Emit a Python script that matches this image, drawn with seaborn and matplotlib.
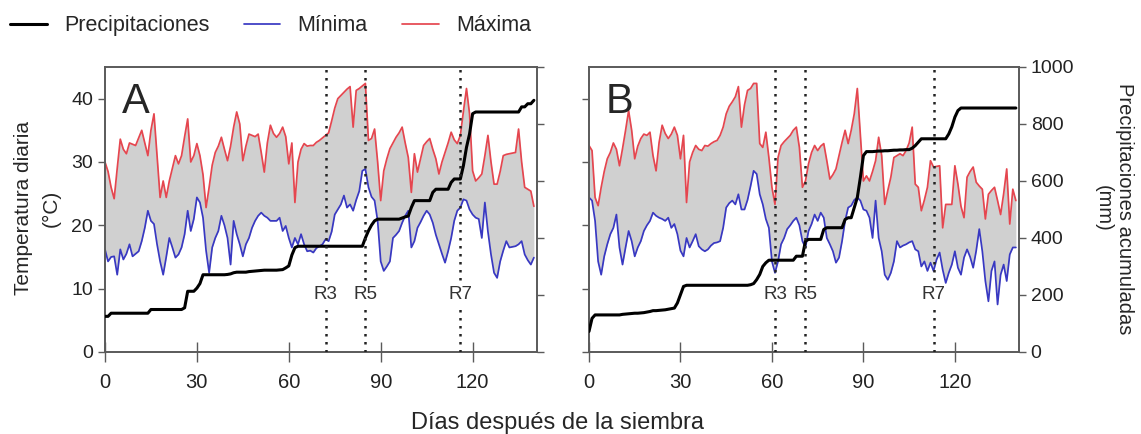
import numpy as np
import pandas as pd
import seaborn as sns
import matplotlib
matplotlib.use("Agg")
import matplotlib.pyplot as plt
from matplotlib.lines import Line2D

# ---------------- data ----------------
days = list(range(0, 141))

max_A = [30, 28.5, 26, 24.2, 29, 33.6, 32, 31.3, 33, 32.8, 32.6, 33.8, 35, 33, 31, 35, 37.6, 31, 24.4, 27,
         24.4, 27, 29, 31, 29.7, 31, 34, 36.8, 30, 31, 32.9, 31, 28, 22.8, 26, 29.5, 31.5, 32.5, 33.9, 32,
         30.2, 32.5, 35.5, 37.9, 36, 30.2, 32.5, 34.4, 34.2, 34, 34.4, 31.5, 28.4, 33, 35.8, 34.5, 33.9, 34.5, 35.5, 34,
         29.7, 33, 23.6, 30, 32, 32.9, 32.5, 32.6, 32.6, 33.1, 33.4, 33.8, 34.2, 34.6, 36.5, 38.5, 40, 40.5, 41, 41.5,
         41.9, 35.5, 41.3, 41.6, 42, 42.4, 33.4, 33.7, 35.2, 30, 23.9, 28.6, 30.5, 32.1, 33, 33.9, 34.6, 35.5, 33, 30.7,
         25.2, 31.3, 28.4, 30.5, 32.6, 33.2, 33.7, 32, 30.5, 28.1, 30, 31.5, 33, 34.7, 33.5, 32.9, 34.2, 38, 41.6, 37.6,
         28.6, 27, 27.5, 28.1, 31, 34.2, 30, 26.5, 26.5, 28.5, 31, 31.2, 31.3, 31.4, 31.5, 35.2, 30, 26, 25.7, 25.4, 23]

min_A = [16.2, 14.3, 15, 15.1, 12.2, 16.2, 14.6, 15.5, 17, 15.1, 15.5, 15.9, 17.5, 19.6, 22.3, 20.7, 20.2, 17, 14.3, 12.2,
         15, 18, 16.5, 14.9, 15.4, 16.5, 18.6, 22.3, 19.1, 21, 24.4, 23.6, 21.2, 16, 12.5, 16.5, 18, 19.1, 21.5, 20,
         18, 13.8, 20.7, 18.6, 17, 15.1, 17, 18, 19.6, 20.7, 21.5, 22, 21.5, 21.2, 20.7, 20.7, 20.7, 21.2, 19.1, 19.9,
         18, 16.5, 18, 17, 18.6, 17, 15.9, 16, 15.7, 16.4, 16.7, 17, 17.8, 17.5, 19, 21.7, 22.5, 23.3, 24.7, 22.8,
         23.3, 22.3, 24, 25.4, 28.6, 28.9, 26, 24.5, 23.9, 20.7, 14.3, 12.8, 13.5, 14.3, 18, 18.5, 19.1, 20.4, 21.5, 22.3,
         16.5, 17.5, 19.6, 20.5, 21.5, 22.3, 21.7, 20.4, 18.5, 17, 15.5, 14.1, 15.9, 18, 20.7, 22.3, 22.8, 24.1, 23.9, 22.5,
         21.7, 21.2, 21, 18, 23.6, 19, 15.4, 12.5, 11.7, 14.3, 16, 17.5, 16.5, 16.6, 16.7, 17, 17.5, 15.4, 14.5, 13.8, 14.9]

precip_A = [125, 125, 136, 136, 136, 136, 136, 136, 136, 136, 136, 136, 136, 136, 136, 149, 149, 149, 149, 149,
            149, 149, 149, 149, 149, 149, 155, 213, 213, 213, 224, 240, 271, 271, 271, 271, 271, 271, 271, 271,
            272, 274, 278, 280, 280, 280, 280, 282, 283, 284, 285, 286, 287, 287, 287, 287, 287, 288, 289, 295,
            302, 340, 366, 371, 371, 371, 371, 371, 371, 371, 371, 371, 371, 371, 371, 371, 371, 371, 371, 371,
            371, 371, 371, 371, 371, 400, 425, 445, 460, 466, 466, 466, 466, 466, 466, 466, 466, 470, 474, 477,
            507, 531, 531, 531, 531, 531, 531, 560, 571, 571, 571, 571, 571, 595, 607, 607, 607, 654, 718, 765,
            836, 842, 842, 842, 842, 842, 842, 842, 842, 842, 842, 842, 842, 842, 842, 842, 860, 860, 871, 871, 883]

max_B = [32.6, 31.8, 24.4, 23.1, 26, 28.5, 30.5, 31.5, 33, 32, 29.4, 32.1, 35, 38.1, 35, 30.5, 32.5, 33.7, 34.4, 34.2,
         34.7, 31, 28.6, 33.1, 35.8, 34.5, 33.7, 34.4, 35.5, 34.2, 30.5, 34.2, 23.6, 30, 31.5, 32.6, 32, 31.8, 32.6, 32.5,
         32.9, 33.2, 33.4, 34.2, 35.5, 37.6, 38.8, 39.5, 40.3, 41.9, 35.5, 39, 41.3, 41.6, 42.4, 42.4, 32.9, 32.3, 34.7, 30.7,
         26, 23.3, 30.7, 32.6, 33.2, 33.7, 34.2, 35, 35.5, 32.3, 26, 27, 29.7, 31.5, 32.6, 31.8, 32.5, 32.9, 30.2, 27.3,
         28, 28.9, 31, 33.1, 35, 32.9, 35, 37.6, 41.6, 34.4, 27, 27.8, 27, 28.5, 30.2, 33.9, 31, 23.3, 25.5, 27.6,
         30.7, 31, 31.3, 31, 31.8, 33, 35.5, 26.5, 26, 22.3, 24, 26, 30.2, 29.2, 29.3, 29.4, 19.6, 23.3, 23.3, 23.3,
         29.4, 26.5, 23, 21.2, 27.6, 28.5, 29.2, 26.8, 26.2, 25.7, 21, 24.9, 25.5, 26, 23.9, 21.7, 25, 28.9, 20.2, 25.7, 23.9]

min_B = [24.4, 23.9, 20.7, 14.3, 12.2, 15.1, 17, 18.6, 19.6, 21.7, 16.5, 13.8, 16.5, 19.1, 17.5, 15.1, 16.5, 17.5, 19.1, 20,
         20.7, 22, 21.5, 21.2, 21, 20.7, 21.2, 19.6, 20.2, 18.6, 16, 15.1, 18, 16.5, 17.5, 18.6, 16.7, 16.2, 15.9, 16.2,
         16.8, 17.2, 17.3, 17.5, 19.6, 22.8, 23.5, 23.9, 23.3, 24.9, 22.5, 22.5, 24, 26.2, 28.6, 28.1, 24.9, 23.3, 21, 19.6,
         14.3, 12.5, 14.3, 17, 18, 19.4, 20, 20.7, 21.2, 20, 17.5, 16.5, 19.1, 20.2, 21.7, 20.7, 22, 21.2, 18, 17,
         15.9, 14.1, 14.9, 17.5, 20.7, 22.8, 23.1, 24, 24.4, 23.9, 22.5, 22.3, 21.2, 18, 23.9, 18, 15.9, 12.2, 11.4, 12.5,
         14.3, 17.5, 16.5, 16.8, 17, 17.3, 17.5, 16.2, 15.9, 13.5, 14.3, 12.8, 14.1, 12.8, 14.6, 15.7, 13, 10.9, 12.5, 13.8,
         15.9, 13.3, 12.2, 14.9, 16.2, 15, 13.3, 16, 19.4, 15.9, 11.2, 8, 12.8, 14.3, 7.5, 12.2, 13.8, 11.2, 15.4, 16.5, 16.5]

precip_B = [72, 118, 130, 130, 130, 130, 130, 130, 130, 130, 130, 132, 133, 134, 135, 136, 136, 137, 138, 140,
            142, 145, 145, 146, 147, 148, 150, 152, 154, 172, 201, 230, 234, 234, 234, 234, 234, 234, 234, 234,
            234, 234, 234, 234, 234, 234, 234, 234, 234, 234, 234, 234, 234, 236, 240, 254, 272, 300, 313, 322,
            322, 322, 322, 322, 322, 322, 322, 322, 336, 336, 336, 389, 395, 395, 395, 395, 395, 430, 436, 436,
            436, 436, 436, 436, 465, 471, 471, 507, 542, 612, 689, 703, 703, 703, 704, 705, 705, 706, 706, 707,
            708, 708, 709, 709, 710, 710, 715, 724, 736, 748, 748, 748, 748, 748, 748, 748, 748, 748, 765, 790,
            824, 847, 856, 856, 856, 856, 856, 856, 856, 856, 856, 856, 856, 856, 856, 856, 856, 856, 856, 856, 856]

stages = ["R3", "R5", "R7"]
stage_days_A = [72, 85, 116]
stage_days_B = [61, 71, 113]

x_ticks = [0, 30, 60, 90, 120]
temp_ticks = [0, 10, 20, 30, 40]
precip_ticks = [0, 200, 400, 600, 800, 1000]

# ---------------- style ----------------
sns.set_style("ticks")
plt.rcParams['font.family'] = ['Liberation Sans', 'DejaVu Sans']
plt.rcParams['axes.edgecolor'] = '#5a5a5a'
plt.rcParams['xtick.color'] = '#5a5a5a'
plt.rcParams['ytick.color'] = '#5a5a5a'
plt.rcParams['xtick.labelcolor'] = '#222222'
plt.rcParams['ytick.labelcolor'] = '#222222'

RED = '#e5464f'
BLUE = '#3838c2'
GRAY = '#d0d0d0'

fig = plt.figure(figsize=(11.41, 4.34), dpi=100)
axA = fig.add_axes([0.092, 0.189, 0.3786, 0.6567])
axB = fig.add_axes([0.5162, 0.189, 0.3768, 0.6567])


def draw(ax, mx, mn, pr, sdays, letter, left_labels, right_labels):
    df = pd.DataFrame({"day": days, "max": mx, "min": mn, "precip": pr})
    ax.fill_between(df["day"], df["min"], df["max"], color=GRAY, lw=0, zorder=1)
    sns.lineplot(data=df, x="day", y="max", ax=ax, color=RED, lw=1.25, zorder=2)
    sns.lineplot(data=df, x="day", y="min", ax=ax, color=BLUE, lw=1.25, zorder=2)
    ax.set_xlim(0, 141)
    ax.set_ylim(0, 45)
    ax.set_xticks(x_ticks)
    ax.set_yticks(temp_ticks)
    ax.set_xlabel("")
    ax.set_ylabel("")
    ax.tick_params(axis='x', direction='inout', length=14, width=1, labelsize=14.5, pad=8)
    ax.tick_params(axis='y', direction='out', length=5, width=1, labelsize=14, labelleft=left_labels)
    for s in ax.spines.values():
        s.set_linewidth(1.2)
    ax.text(5.5, 39.5, letter, fontsize=30, va='center', ha='left', zorder=6)

    ax2 = ax.twinx()
    sns.lineplot(data=df, x="day", y="precip", ax=ax2, color='black', lw=2.2, zorder=3)
    ax2.set_ylim(0, 1000)
    ax2.set_yticks(precip_ticks)
    ax2.set_ylabel("")
    ax2.tick_params(axis='y', direction='out', length=5, width=1, labelsize=14, labelright=right_labels)
    for s in ax2.spines.values():
        s.set_linewidth(1.2)
    for name, d in zip(stages, sdays):
        ax2.axvline(d, color='#222222', ls=(0, (1, 2.2)), lw=1.8, zorder=4)
        ax2.text(d, 200, name, ha='center', va='center', fontsize=13.5, color='#333333', zorder=5,
                 bbox=dict(facecolor='white', edgecolor='none', pad=2))
    ax2.set_xlim(0, 141)
    return ax2


draw(axA, max_A, min_A, precip_A, stage_days_A, "A", True, False)
draw(axB, max_B, min_B, precip_B, stage_days_B, "B", False, True)

fig.text(0.033, 0.52, "Temperatura diaria\n(°C)", rotation=90, ha='center', va='center',
         fontsize=15, linespacing=1.55)
fig.text(0.976, 0.52, "Precipitaciones acumuladas\n(mm)", rotation=270, ha='center', va='center',
         fontsize=14.5, linespacing=1.15)
fig.text(0.489, 0.026, "Días después de la siembra", ha='center', va='center', fontsize=17)

handles = [Line2D([0], [0], color='black', lw=2.2),
           Line2D([0], [0], color=BLUE, lw=1.25),
           Line2D([0], [0], color=RED, lw=1.25)]
fig.legend(handles, ["Precipitaciones", "Mínima", "Máxima"], loc='upper left', bbox_to_anchor=(-0.008, 1.01),
           ncol=3, frameon=False, fontsize=15.5, handlelength=1.7, columnspacing=1.6, handletextpad=0.8)

fig.savefig("out.png", dpi=100)
